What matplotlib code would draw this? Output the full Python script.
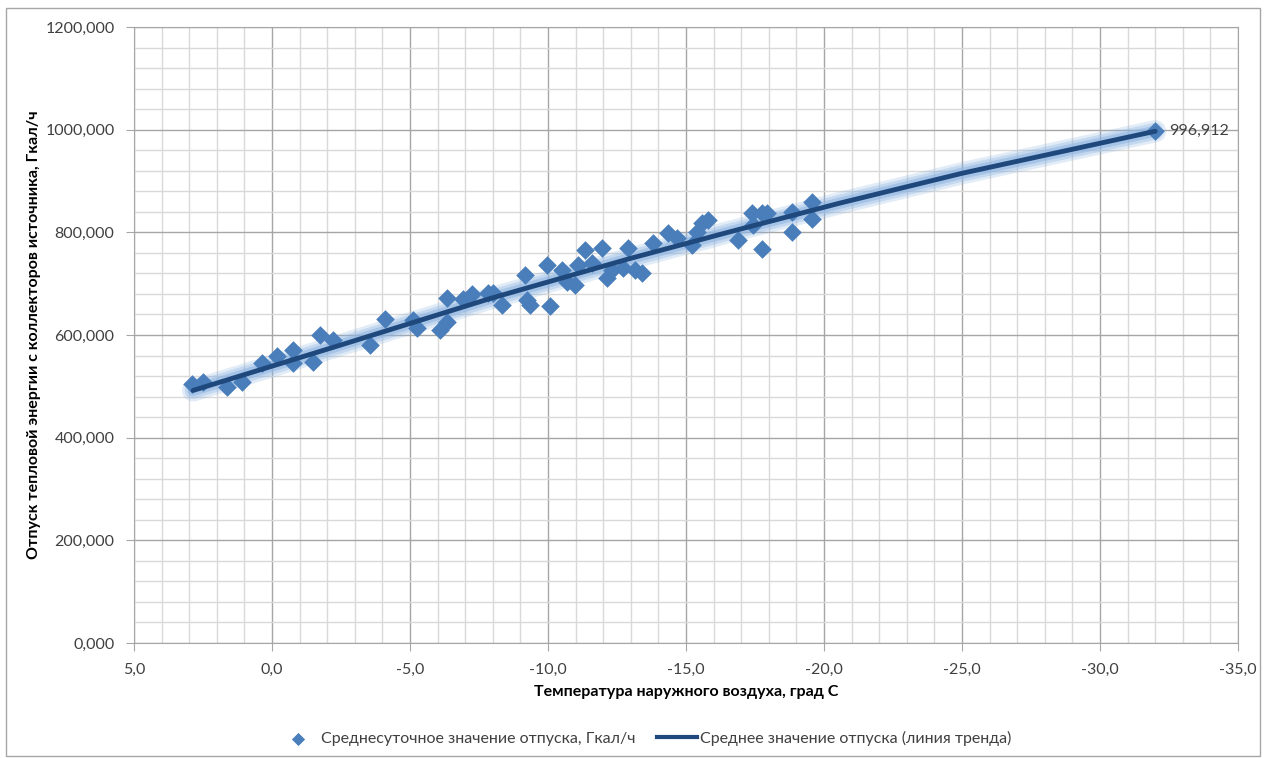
import numpy as np
import matplotlib.pyplot as plt
from matplotlib.ticker import MultipleLocator, FuncFormatter
from matplotlib.patches import Rectangle

# daily averages: outdoor temperature (deg C) and heat output (Gcal/h)
temp = [2.91, 2.5, 1.64, 1.10, 0.37, -0.17, -0.77, -0.77, -1.50, -1.74, -2.21,
        -3.55, -4.09, -5.11, -5.24, -6.09, -6.33, -6.33, -6.93, -7.24, -7.84,
        -8.02, -8.32, -9.17, -9.23, -9.35, -9.95, -10.07, -10.50, -10.68,
        -10.98, -11.10, -11.34, -11.58, -11.95, -12.13, -12.31, -12.73, -12.91,
        -13.15, -13.39, -13.82, -14.36, -14.66, -15.21, -15.39, -15.57, -15.81,
        -16.89, -17.38, -17.43, -17.74, -17.74, -17.92, -18.83, -18.83, -19.55,
        -19.55, -32.0]
heat = [504, 508, 499, 509, 545, 559, 571, 545, 548, 600, 590,
        581, 631, 629, 614, 610, 672, 626, 671, 679, 681,
        682, 658, 717, 668, 658, 736, 657, 727, 704,
        697, 736, 766, 740, 769, 711, 727, 730, 769,
        727, 720, 779, 798, 788, 775, 801, 818, 824,
        785, 837, 814, 837, 768, 837, 801, 840, 859,
        826, 996.912]

# trend line
trend_t = [2.86, -2.46, -7.90, -12.97, -16.59, -20.58, -25.0, -32.0]
trend_q = [492.0, 580.0, 671.0, 749.0, 801.0, 857.0, 915.0, 996.912]

last_label = "996,912"
xlabel = "Температура наружного воздуха, град С"
ylabel = "Отпуск тепловой энергии с коллекторов источника, Гкал/ч"
lbl_pts = "Среднесуточное значение отпуска, Гкал/ч"
lbl_trend = "Среднее значение отпуска (линия тренда)"

plt.rcParams['font.family'] = ['Lato', 'DejaVu Sans']

fig = plt.figure(figsize=(12.64, 7.58), dpi=100)
ax = fig.add_axes([134/1264, 1-643/758, (1238-134)/1264, (643-27)/758])

fig.patches.append(Rectangle((6/1264, 2/758), 1-10/1264, 1-10/758, transform=fig.transFigure,
                             fill=False, edgecolor='#a6a6a6', lw=1))

ax.set_xlim(5, -35)
ax.set_ylim(0, 1200)
ax.xaxis.set_major_locator(MultipleLocator(5))
ax.xaxis.set_minor_locator(MultipleLocator(1))
ax.yaxis.set_major_locator(MultipleLocator(200))
ax.yaxis.set_minor_locator(MultipleLocator(40))
ax.xaxis.set_major_formatter(FuncFormatter(lambda v, p: f"{v:.1f}".replace('.', ',')))
ax.yaxis.set_major_formatter(FuncFormatter(lambda v, p: f"{v:.3f}".replace('.', ',')))
ax.grid(which='major', color='#a6a6a6', lw=1)
ax.grid(which='minor', color='#d9d9d9', lw=1)
ax.set_axisbelow(True)
for s in ax.spines.values():
    s.set_color('#a6a6a6')
ax.tick_params(which='major', length=6, color='#a6a6a6', labelsize=11.5, labelcolor='#404040', pad=8)
ax.tick_params(which='minor', length=0)

# soft glow round the trend line
for w, a in [(16, 0.25), (12, 0.35), (8, 0.55)]:
    ax.plot(trend_t, trend_q, color='#8db4e2', lw=w, alpha=a, solid_capstyle='round',
            solid_joinstyle='round', zorder=2)
ax.scatter(temp, heat, marker='D', s=90, color='#4a7ebb', zorder=3, linewidths=0)
ax.plot(trend_t, trend_q, color='#1f497d', lw=3.5, solid_capstyle='round',
        solid_joinstyle='round', zorder=4)

ax.annotate(last_label, (temp[-1], heat[-1]), xytext=(10, 0), textcoords='offset points',
            va='center', ha='left', fontsize=11.5, color='#404040')

ax.set_xlabel(xlabel, fontsize=11.5, fontweight='bold', labelpad=6)
ax.set_ylabel(ylabel, fontsize=11.5, fontweight='bold', labelpad=3)

h1 = ax.scatter([], [], marker='D', s=45, color='#4a7ebb', linewidths=0)
h2, = ax.plot([], [], color='#1f497d', lw=3)
fig.legend([h1, h2], [lbl_pts, lbl_trend], loc='lower center', bbox_to_anchor=(0.51, -0.003),
           ncol=2, frameon=False, fontsize=11.5, columnspacing=1.3, handlelength=2.5,
           handletextpad=0.2, labelcolor='#404040')

fig.savefig('out.png', dpi=100)
